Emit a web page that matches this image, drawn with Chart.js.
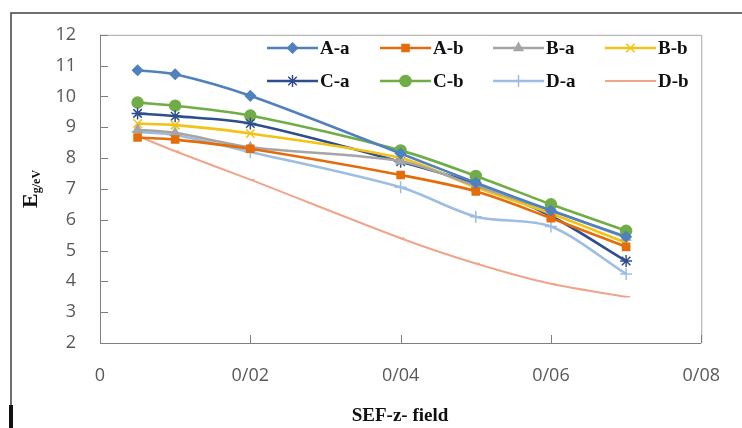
<!DOCTYPE html>
<html>
<head>
<meta charset="utf-8">
<script src="https://cdn.jsdelivr.net/npm/chart.js@4/dist/chart.umd.min.js"></script>
<style>
html,body{margin:0;padding:0;background:#fff;}
canvas{display:block;}
</style>
</head>
<body>
<canvas id="c" width="742" height="428"></canvas>
<script>
// ---- data ----
const xValues = [0.005, 0.01, 0.02, 0.04, 0.05, 0.06, 0.07];
const seriesLabels = ['A-a', 'A-b', 'B-a', 'B-b', 'C-a', 'C-b', 'D-a', 'D-b'];
const Aa = [10.85, 10.72, 10.02, 8.15, 7.20, 6.30, 5.45];
const Ab = [8.67, 8.60, 8.30, 7.45, 6.92, 6.05, 5.12];
const Ba = [8.92, 8.82, 8.35, 7.90, 7.10, 6.30, 5.42];
const Bb = [9.12, 9.07, 8.80, 8.00, 7.05, 6.20, 5.25];
const Ca = [9.45, 9.36, 9.12, 7.88, 7.15, 6.12, 4.66];
const Cb = [9.80, 9.70, 9.38, 8.25, 7.42, 6.50, 5.64];
const Da = [8.85, 8.75, 8.20, 7.05, 6.10, 5.78, 4.24];
const Db = [8.72, 8.22, 7.30, 5.40, 4.58, 3.92, 3.50];
const xTicks = [0, 0.02, 0.04, 0.06, 0.08];
const yTicks = [2, 3, 4, 5, 6, 7, 8, 9, 10, 11, 12];
const xTitle = 'SEF-z- field';
const yTitleMain = 'E';
const yTitleSub = 'g/eV';

const seriesValues = [Aa, Ab, Ba, Bb, Ca, Cb, Da, Db];
const styles = [
  {color:'#4f81bd', point:'rectRot', r:5},
  {color:'#e46c0a', point:'rect', r:5},
  {color:'#a5a5a5', point:'triangle', r:5},
  {color:'#f2c314', point:'crossRot', r:6},
  {color:'#2f4e8c', point:'star', r:6},
  {color:'#70ad47', point:'circle', r:5.5},
  {color:'#9dbde3', point:'cross', r:6},
  {color:'#f0a58a', point:'dash', r:4}
];

const datasets = seriesLabels.map((lab, i) => ({
  label: lab,
  data: xValues.map((x, j) => ({x: x, y: seriesValues[i][j]})),
  borderColor: styles[i].color,
  backgroundColor: styles[i].color,
  pointBackgroundColor: styles[i].color,
  pointBorderColor: styles[i].color,
  pointStyle: styles[i].point,
  pointRadius: styles[i].r,
  pointBorderWidth: 1.5,
  borderWidth: i === 7 ? 2 : 2.6,
  tension: 0.3,
  fill: false
}));

const fmtX = v => {
  if (Math.abs(v) < 1e-9) return '0';
  return v.toFixed(2).replace('.', '/');
};

const decorPlugin = {
  id: 'decor',
  beforeDraw(chart) {
    const ctx = chart.ctx;
    ctx.save();
    ctx.fillStyle = '#fff';
    ctx.fillRect(0, 0, chart.width, chart.height);
    // outer frame
    ctx.strokeStyle = '#404040';
    ctx.lineWidth = 1.5;
    ctx.beginPath();
    ctx.moveTo(11, 428);
    ctx.lineTo(11, 13);
    ctx.lineTo(742, 13);
    ctx.stroke();
    ctx.fillStyle = '#111';
    ctx.fillRect(9, 405, 4, 23);
    ctx.restore();
  },
  afterDraw(chart) {
    const ctx = chart.ctx;
    const a = chart.chartArea;
    const xs = chart.scales.x, ys = chart.scales.y;
    ctx.save();
    // plot border
    ctx.strokeStyle = '#a6a6a6';
    ctx.lineWidth = 1;
    ctx.beginPath();
    ctx.moveTo(a.left, a.top + 0.5);
    ctx.lineTo(a.right + 0.5, a.top + 0.5);
    ctx.lineTo(a.right + 0.5, a.bottom);
    ctx.stroke();
    ctx.strokeStyle = '#7f7f7f';
    ctx.beginPath();
    ctx.moveTo(a.left + 0.5, a.top);
    ctx.lineTo(a.left + 0.5, a.bottom + 0.5);
    ctx.lineTo(a.right, a.bottom + 0.5);
    ctx.stroke();
    // inward ticks
    ctx.beginPath();
    yTicks.forEach(v => {
      const py = Math.round(ys.getPixelForValue(v)) + 0.5;
      ctx.moveTo(a.left, py); ctx.lineTo(a.left + 8, py);
    });
    xTicks.forEach(v => {
      const px = Math.round(xs.getPixelForValue(v)) + 0.5;
      ctx.moveTo(px, a.bottom); ctx.lineTo(px, a.bottom - 8);
    });
    ctx.stroke();

    // legend
    const colX = [267, 380, 493, 605];
    const rowY = [48, 81];
    ctx.textBaseline = 'middle';
    ctx.textAlign = 'left';
    ctx.font = 'bold 19px "Liberation Serif", "Times New Roman", serif';
    chart.data.datasets.forEach((ds, i) => {
      const x0 = colX[i % 4], y0 = rowY[Math.floor(i / 4)];
      ctx.strokeStyle = ds.borderColor;
      ctx.fillStyle = ds.borderColor;
      ctx.lineWidth = ds.borderWidth;
      ctx.beginPath();
      ctx.moveTo(x0, y0); ctx.lineTo(x0 + 51, y0);
      ctx.stroke();
      ctx.lineWidth = 1.5;
      Chart.helpers.drawPoint(ctx, {pointStyle: ds.pointStyle, radius: ds.pointRadius, borderWidth: 1.5, rotation: 0}, x0 + 25.5, y0);
      ctx.fillStyle = '#111';
      ctx.fillText(ds.label, x0 + 53, y0 + 1);
    });

    // x title
    ctx.fillStyle = '#111';
    ctx.textAlign = 'center';
    ctx.font = 'bold 19px "Liberation Serif", "Times New Roman", serif';
    ctx.fillText(xTitle, 400, 416);

    // y title rotated with subscript
    ctx.translate(30, (a.top + a.bottom) / 2);
    ctx.rotate(-Math.PI / 2);
    ctx.textAlign = 'left';
    ctx.textBaseline = 'alphabetic';
    ctx.font = 'bold 22px "Liberation Serif", "Times New Roman", serif';
    const wE = ctx.measureText(yTitleMain).width;
    ctx.font = 'bold 12px "Liberation Serif", "Times New Roman", serif';
    const wS = ctx.measureText(yTitleSub).width;
    const start = -(wE + wS) / 2;
    ctx.font = 'bold 22px "Liberation Serif", "Times New Roman", serif';
    ctx.fillText(yTitleMain, start, 7);
    ctx.font = 'bold 12px "Liberation Serif", "Times New Roman", serif';
    ctx.fillText(yTitleSub, start + wE, 10);
    ctx.restore();
  }
};

new Chart(document.getElementById('c'), {
  type: 'line',
  data: {datasets: datasets},
  options: {
    responsive: false,
    animation: false,
    layout: {padding: {top: 31, right: 37, left: 0, bottom: 0}},
    plugins: {legend: {display: false}, tooltip: {enabled: false}},
    scales: {
      x: {
        type: 'linear', min: 0, max: 0.08,
        afterFit: s => { s.height = 85; },
        afterBuildTicks: s => { s.ticks = xTicks.map(v => ({value: v})); },
        grid: {display: false, drawTicks: false},
        border: {display: false},
        ticks: {
          callback: v => fmtX(v),
          color: '#595959', padding: 22, maxRotation: 0,
          font: {family: '"Open Sans", "Noto Sans", sans-serif', size: 18}
        }
      },
      y: {
        type: 'linear', min: 2, max: 12,
        afterFit: s => { s.width = 100; },
        afterBuildTicks: s => { s.ticks = yTicks.map(v => ({value: v})); },
        grid: {display: false, drawTicks: false},
        border: {display: false},
        ticks: {
          color: '#595959', padding: 24,
          font: {family: '"Open Sans", "Noto Sans", sans-serif', size: 18}
        }
      }
    }
  },
  plugins: [decorPlugin]
});
</script>
</body>
</html>
